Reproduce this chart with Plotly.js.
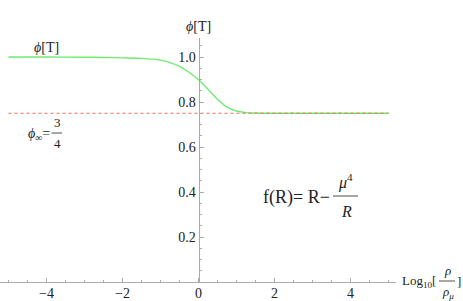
<!DOCTYPE html>
<html>
<head>
<meta charset="utf-8">
<script src="https://cdn.plot.ly/plotly-3.0.1.min.js"></script>
<style>html,body{margin:0;padding:0;background:#fff;}#chart{width:463px;height:301px;}</style>
</head>
<body>
<div id="chart"></div>
<script>
// Data
const logRho = [-5, -4, -3, -2.5, -2, -1.5, -1.0, -0.75, -0.5, -0.25, 0, 0.25, 0.5, 0.75, 1.0, 1.25, 1.5, 2, 3, 4, 5];
const phiT   = [1.0, 1.0, 0.999, 0.998, 0.996, 0.994, 0.986, 0.975, 0.958, 0.932, 0.899, 0.857, 0.812, 0.777, 0.760, 0.753, 0.751, 0.750, 0.750, 0.750, 0.750];
const phiInfX = [-5, 5];
const phiInf  = [0.75, 0.75];
const xTickVals = [-4, -2, 0, 2, 4];
const xTickText = ['\u22124', '\u22122', '0', '2', '4'];
const yTickVals = [0.2, 0.4, 0.6, 0.8, 1.0];
const yTickText = ['0.2', '0.4', '0.6', '0.8', '1.0'];

// plot geometry in pixels (for placing text labels)
const W = 463, H = 301, ML = 0, MR = 67, MT = 38, MB = 19;
const PW = W - ML - MR, PH = H - MT - MB;
const px = v => (v - ML) / PW;
const py = v => (H - MB - v) / PH;

const SERIF = '"Liberation Serif", "DejaVu Serif", serif';
const TXT = '#222';

const traces = [
  {x: logRho, y: phiT, type: 'scatter', mode: 'lines',
   line: {color: '#6FEB6F', width: 1.4, shape: 'spline', smoothing: 0.8}, hoverinfo: 'skip'},
  {x: phiInfX, y: phiInf, type: 'scatter', mode: 'lines',
   line: {color: '#EE6A5A', width: 1, dash: '3px,3px'}, hoverinfo: 'skip'}
];

function ann(text, x, y, size, extra) {
  return Object.assign({text: text, xref: 'paper', yref: 'paper', x: px(x), y: py(y),
    xanchor: 'center', yanchor: 'middle', showarrow: false,
    font: {family: SERIF, size: size, color: TXT}}, extra || {});
}
function bar(x0, x1, y) {
  return {type: 'line', xref: 'paper', yref: 'paper', x0: px(x0), x1: px(x1), y0: py(y), y1: py(y),
    line: {color: TXT, width: 0.8}};
}

const layout = {
  width: W, height: H,
  margin: {l: ML, r: MR, t: MT, b: MB, pad: 0},
  paper_bgcolor: '#fff', plot_bgcolor: '#fff',
  showlegend: false,
  font: {family: SERIF},
  xaxis: {
    range: [-198.5/38, 197.5/38], showgrid: false, zeroline: false,
    showline: true, linecolor: '#aaa', linewidth: 1,
    ticks: 'inside', ticklen: 4, tickcolor: '#aaa', tickwidth: 1,
    tickvals: xTickVals, ticktext: xTickText, ticklabelstandoff: -2,
    minor: {ticks: 'inside', dtick: 0.5, tick0: 0, ticklen: 2, tickcolor: '#aaa'},
    tickfont: {family: SERIF, size: 14, color: TXT}
  },
  yaxis: {
    range: [0, PH/225], showgrid: false, zeroline: false,
    anchor: 'free', position: 198.5/PW, side: 'left',
    showline: true, linecolor: '#aaa', linewidth: 1,
    ticks: 'inside', ticklen: 4, tickcolor: '#aaa', tickwidth: 1,
    tickvals: yTickVals, ticktext: yTickText,
    minor: {ticks: 'inside', dtick: 0.05, tick0: 0, ticklen: 2, tickcolor: '#aaa'},
    tickfont: {family: SERIF, size: 14, color: TXT}
  },
  annotations: [
    ann('<i>ϕ</i>[T]', 198, 27, 14),
    ann('<i>ϕ</i>[T]', 46, 47, 14),
    ann('<i>ϕ</i><sub>∞</sub>=', 39, 134, 14),
    ann('3', 57, 122, 13),
    ann('4', 57, 143, 13),
    ann('f(R)= R\u2212', 296, 197, 18),
    ann('<i>μ</i><sup>4</sup>', 345, 181, 16),
    ann('<i>R</i>', 346, 211, 16),
    ann('Log<sub>10</sub>[', 419, 281, 13),
    ann('<i>ρ</i>', 447, 270, 13),
    ann('<i>ρ</i><sub><i>μ</i></sub>', 448, 292, 13),
    ann(']', 459, 281, 13)
  ],
  shapes: [
    bar(51.5, 62, 133),
    bar(333, 358, 196),
    bar(439, 455, 281)
  ]
};

Plotly.newPlot('chart', traces, layout, {staticPlot: true, displayModeBar: false});
</script>
</body>
</html>
